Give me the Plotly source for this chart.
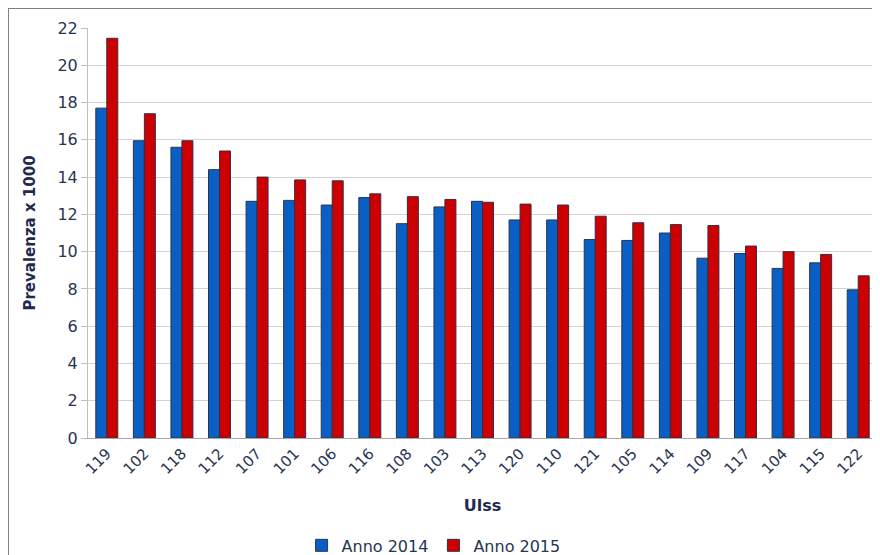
import plotly.graph_objects as go

ulss = ["119", "102", "118", "112", "107", "101", "106", "116", "108", "103", "113",
        "120", "110", "121", "105", "114", "109", "117", "104", "115", "122"]
anno_2014 = [17.7, 15.95, 15.6, 14.4, 12.7, 12.75, 12.5, 12.9, 11.5, 12.4, 12.7,
             11.7, 11.7, 10.65, 10.6, 11.0, 9.65, 9.9, 9.1, 9.4, 7.95]
anno_2015 = [21.45, 17.4, 15.95, 15.4, 14.0, 13.85, 13.8, 13.1, 12.95, 12.8, 12.65,
             12.55, 12.5, 11.9, 11.55, 11.45, 11.4, 10.3, 10.0, 9.85, 8.7]
y_ticks = [0, 2, 4, 6, 8, 10, 12, 14, 16, 18, 20, 22]

text_col = "#283552"
font_family = "DejaVu Sans, Verdana, sans-serif"

fig = go.Figure()
fig.add_trace(go.Bar(name="Anno 2014", x=ulss, y=anno_2014,
                     marker=dict(color="#0A5FC4", line=dict(color="#2B3550", width=1))))
fig.add_trace(go.Bar(name="Anno 2015", x=ulss, y=anno_2015,
                     marker=dict(color="#CC0000", line=dict(color="#3A2A40", width=1))))

fig.update_layout(
    width=872, height=547,
    barmode="group", bargap=0.415, bargroupgap=0,
    plot_bgcolor="white", paper_bgcolor="white",
    margin=dict(l=80, r=3, t=20, b=117, autoexpand=False),
    font=dict(family=font_family, color=text_col, size=14),
    legend=dict(orientation="h", x=0.438, xanchor="center", y=-0.262, yanchor="middle",
                font=dict(size=16, color=text_col), itemwidth=30,
                traceorder="normal"),
    shapes=[
        dict(type="line", xref="paper", yref="paper",
             x0=-0.1014, x1=1.0038, y0=1.0488, y1=1.0488,
             line=dict(color="#808080", width=2)),
        dict(type="line", xref="paper", yref="paper",
             x0=-0.1014, x1=-0.1014, y0=1.0488, y1=-0.32,
             line=dict(color="#808080", width=2)),
    ],
)

fig.update_yaxes(
    range=[0, 22], tickvals=y_ticks, ticktext=[str(v) for v in y_ticks],
    showgrid=True, gridcolor="#D3D3D3", gridwidth=1,
    showline=True, linecolor="#BEBEBE", linewidth=1,
    ticks="outside", ticklen=6, tickcolor="#BEBEBE",
    tickfont=dict(size=16, color=text_col),
    zeroline=False,
    title=dict(text="<b>Prevalenza x 1000</b>", font=dict(size=15, color="#1F2A4F"), standoff=18),
)
fig.update_xaxes(
    tickangle=-45, tickfont=dict(size=15, color=text_col),
    showline=True, linecolor="#A9A9A9", linewidth=1,
    ticks="", showgrid=False,
    title=dict(text="<b>Ulss</b>", font=dict(size=16, color="#1F2A4F"), standoff=22),
)

fig.write_html("out.html")
